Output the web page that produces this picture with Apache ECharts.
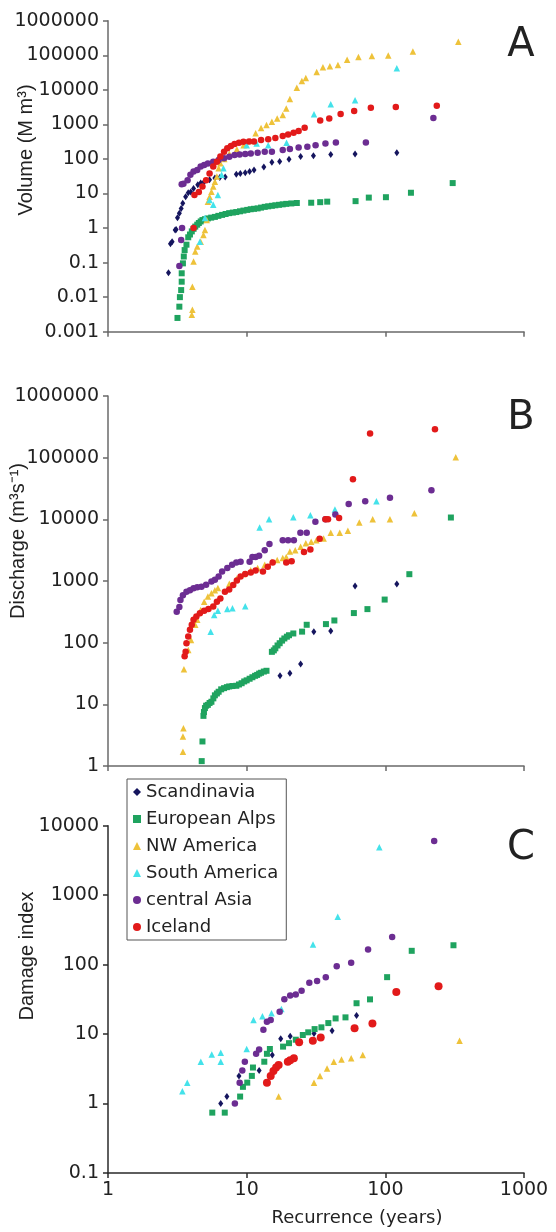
<!DOCTYPE html>
<html><head><meta charset="utf-8">
<script src="https://cdn.jsdelivr.net/npm/echarts@6/dist/echarts.min.js"></script>
<style>html,body{margin:0;padding:0;background:#fff}#c{width:556px;height:1232px}</style>
</head><body><div id="c"></div>
<script>
// ---------- DATA ----------
const regions = ['Scandinavia', 'European Alps', 'NW America', 'South America', 'central Asia', 'Iceland'];
const panelLetters = ['A', 'B', 'C'];
const yNames = ['Volume (M m³)', 'Discharge (m³s⁻¹)', 'Damage index'];
const xName = 'Recurrence (years)';

// Panel A: volume (M m3) vs recurrence (years)
const volScandinavia = [[2.73,0.051],[2.82,0.35],[2.9,0.4],[3.05,0.87],[3.1,0.9],[3.17,2.0],[3.27,2.7],[3.37,3.7],[3.46,5.2],[3.63,8.1],[3.79,10.5],[3.95,11],[4.14,14],[4.44,18],[4.66,20],[4.94,22],[5.4,25],[5.9,28],[6.4,29],[7.0,30],[8.42,36],[9.0,38],[9.77,40],[10.5,43],[11.3,48],[13.3,58],[15.2,80],[17.3,84],[20.2,98],[24.5,117],[30.3,123],[40.4,135],[60.5,138],[121,150]];
const volAlps = [[3.17,0.0025],[3.27,0.0053],[3.3,0.01],[3.37,0.016],[3.4,0.028],[3.4,0.049],[3.47,0.095],[3.52,0.15],[3.57,0.23],[3.68,0.33],[3.79,0.54],[3.9,0.65],[4.02,0.8],[4.14,0.95],[4.26,1.1],[4.4,1.25],[4.52,1.4],[4.66,1.55],[4.8,1.7],[5.0,1.8],[5.25,1.9],[5.55,2.0],[5.9,2.1],[6.25,2.25],[6.65,2.4],[7.05,2.55],[7.48,2.7],[7.95,2.8],[8.42,2.9],[8.95,3.05],[9.48,3.2],[10.1,3.35],[10.7,3.5],[11.3,3.6],[12.0,3.7],[12.7,3.9],[13.5,4.1],[14.3,4.25],[15.2,4.4],[16.1,4.55],[17.1,4.7],[18.2,4.85],[19.3,5.0],[21,5.15],[23,5.3],[29.2,5.4],[33.9,5.6],[38.1,5.8],[61,6.0],[76,7.6],[101,7.8],[153,10.5],[306,20]];
const volNWAmerica = [[4.02,0.0031],[4.06,0.0043],[4.06,0.02],[4.14,0.107],[4.26,0.21],[4.4,0.29],[4.66,0.4],[4.88,0.63],[5.0,0.87],[5.15,1.7],[5.25,5.8],[5.4,8.1],[5.57,11.3],[5.74,15.8],[5.9,22],[6.1,31],[6.28,54],[6.46,75],[6.9,100],[7.5,140],[8.5,190],[9.5,250],[10.6,330],[11.6,550],[12.7,780],[13.9,960],[15.2,1200],[16.6,1480],[18.2,1870],[19.3,2900],[20.5,5400],[23,11500],[25,18000],[26.7,22000],[32,33000],[35.5,45000],[39.8,48000],[45.5,52000],[53,74000],[64,89000],[80,95000],[105,98000],[158,128000],[336,245000]];
const volSAmerica = [[4.6,0.4],[5.0,1.95],[5.4,6.5],[5.74,4.7],[6.2,9.1],[6.8,54],[6.6,35],[10,250],[11.8,280],[14.3,250],[19.4,295],[30.6,1950],[40.4,3800],[60.5,5000],[121,42000]];
const volCAsia = [[3.27,0.08],[3.37,0.45],[3.42,1.0],[3.4,18.6],[3.5,19],[3.75,24],[3.93,35],[4.14,43],[4.4,48],[4.66,60],[4.94,67],[5.25,74],[5.74,83],[6.28,93],[6.87,104],[7.5,115],[8.18,130],[8.9,135],[9.77,138],[10.7,144],[12.0,150],[13.5,162],[15.2,162],[18.2,180],[20.5,195],[23.7,213],[27.4,225],[31.4,250],[37,280],[44,300],[72.4,300],[222,1540]];
const volIceland = [[4.14,1.0],[4.2,9.1],[4.52,11],[4.8,15.8],[5.1,24],[5.4,38],[5.74,60],[6.1,83],[6.46,117],[6.87,162],[7.25,204],[7.7,235],[8.18,270],[8.8,295],[9.48,316],[10.4,320],[11.3,320],[12.7,355],[14.3,370],[16.1,400],[18.2,460],[19.9,510],[21.8,570],[23.7,640],[26.2,800],[33.9,1290],[39.4,1490],[47.6,2000],[59.6,2440],[78.6,3040],[119,3160],[235,3480]];

// Panel B: discharge (m3/s) vs recurrence (years)
const disScandinavia = [[17.4,29],[20.5,32],[24.5,45],[30.5,150],[40.4,155],[60.5,830],[121,890]];
const disAlps = [[4.74,1.2],[4.8,2.5],[4.88,6.5],[4.92,7.5],[5.0,8.7],[5.1,9.5],[5.25,9.8],[5.4,10.5],[5.57,11],[5.75,12.5],[5.9,14],[6.1,15],[6.28,16],[6.55,17.5],[6.87,18.3],[7.2,19],[7.48,19.5],[7.9,19.8],[8.42,20],[8.8,21],[9.2,22],[9.6,23.5],[10.0,24.5],[10.5,26],[11.0,27.5],[11.5,29],[11.9,30],[12.3,31.5],[12.7,32.5],[13.3,34],[13.9,35],[15.2,71],[15.7,75],[16.1,81],[16.7,90],[17.3,98],[18.0,108],[18.7,117],[19.5,125],[20.2,132],[21.7,141],[25.1,151],[27.1,195],[37.3,200],[42.9,229],[59.3,302],[74.3,350],[98.9,500],[149,1290],[297,10700]];
const disNWAmerica = [[3.47,1.7],[3.47,3.0],[3.5,4.1],[3.53,37],[3.79,76],[3.97,110],[4.26,195],[4.4,235],[4.66,340],[4.94,460],[5.25,560],[5.57,630],[5.9,710],[6.2,770],[7.5,900],[8.5,1100],[9.5,1300],[10.7,1500],[12.0,1620],[13.5,1830],[15.2,2060],[16.6,2200],[18.2,2350],[19.3,2460],[20.5,3000],[22.4,3150],[24.5,3600],[26.7,4100],[29.2,4350],[31.8,4600],[35.9,4900],[40.4,6050],[46.9,6050],[53.7,6500],[64.9,8900],[81.1,10000],[108,10000],[162,12600],[322,102000]];
const disSAmerica = [[5.5,150],[5.83,280],[6.2,330],[7.25,350],[7.9,360],[9.77,390],[12.4,7400],[14.5,10000],[21.7,10800],[28.8,11700],[43.3,14500],[86.3,19600]];
const disCAsia = [[3.13,316],[3.27,380],[3.33,490],[3.47,590],[3.68,670],[3.9,710],[4.14,760],[4.4,790],[4.72,810],[5.1,870],[5.57,980],[5.9,1050],[6.28,1180],[6.65,1420],[7.25,1620],[7.85,1830],[8.42,2000],[9.04,2060],[10.5,2060],[11.0,2460],[11.6,2460],[12.3,2560],[13.5,3150],[14.6,3970],[18.2,4600],[19.9,4600],[21.9,4600],[24.4,6050],[27.1,6050],[31.3,9100],[37,10000],[43.6,12000],[54.4,17800],[71.6,19600],[108,22400],[215,29600]];
const disIceland = [[3.57,60],[3.63,71],[3.68,98],[3.79,126],[3.9,162],[4.02,195],[4.14,235],[4.34,265],[4.6,300],[4.94,330],[5.3,350],[5.74,385],[6.1,460],[6.46,520],[6.97,670],[7.48,730],[8.0,860],[8.5,1020],[9.04,1180],[9.77,1300],[10.7,1370],[11.6,1480],[13.1,1430],[14.2,1710],[15.4,2000],[19.3,2000],[21.1,2100],[25.9,2950],[28.8,3250],[33.6,4850],[37,10000],[38.6,10000],[46.4,10500],[58.4,44600],[77.6,247000],[228,290000]];

// Panel C: damage index vs recurrence (years)
const dmgScandinavia = [[6.5,1.0],[7.2,1.26],[8.8,2.5],[12.3,3.0],[15.3,5.0],[17.6,8.6],[20.6,9.3],[30.6,10.2],[41.3,11.2],[62,18.5]];
const dmgAlps = [[5.65,0.74],[6.95,0.74],[8.97,1.26],[9.4,1.74],[10.1,2.0],[10.9,2.5],[11.1,3.3],[13.4,4.0],[14.0,5.2],[14.7,6.1],[18.3,6.6],[20.2,7.4],[22.6,8.3],[25.4,9.7],[27.8,10.6],[30.9,11.8],[34.6,12.5],[38.8,14.4],[43.8,16.8],[51.6,17.4],[62,27.8],[77.5,31.6],[103,66],[155,158],[310,190]];
const dmgNWAmerica = [[17.0,1.26],[30.6,2.0],[33.8,2.5],[38.0,3.2],[42.5,4.0],[48.3,4.3],[56.7,4.5],[68.7,5.0],[343,8.0]];
const dmgSAmerica = [[3.44,1.5],[3.73,2.0],[4.67,4.0],[5.6,5.1],[6.5,5.4],[6.5,4.0],[10.0,6.1],[11.2,16],[13.0,18],[15.1,20],[17.8,23],[30.1,195],[45.4,490],[90.5,4900]];
const dmgCAsia = [[8.22,1.0],[8.9,2.0],[9.3,3.0],[9.7,4.0],[11.7,5.2],[12.3,6.0],[13.2,11.5],[14.0,15],[14.9,16],[17.3,21],[18.7,31.6],[20.6,36],[22.6,37],[24.9,42],[28.3,55],[32.2,58],[37.2,66],[44.6,95],[56.7,106],[75.1,165],[112,250],[225,6000]];
const dmgIceland = [[14.0,2.0],[14.9,2.5],[15.6,2.95],[16.3,3.3],[17.0,3.6],[19.8,4.0],[20.6,4.2],[21.9,4.5],[23.9,7.6],[30.0,8.0],[34.2,8.9],[60.0,12.1],[80.7,14.2],[120,40.3],[242,49]];

const panelData = [
  [volScandinavia, volAlps, volNWAmerica, volSAmerica, volCAsia, volIceland],
  [disScandinavia, disAlps, disNWAmerica, disSAmerica, disCAsia, disIceland],
  [dmgScandinavia, dmgAlps, dmgNWAmerica, dmgSAmerica, dmgCAsia, dmgIceland]
];
const yRanges = [[0.001, 1000000], [1, 1000000], [0.1, 10000]];
const xRange = [1, 1000];

// ---------- STYLE ----------
const colors = ['#15155e', '#1fa35f', '#eec23a', '#44e2ea', '#6c2d92', '#e21a1a'];
const symbols = ['diamond', 'rect', 'triangle', 'triangle', 'circle', 'circle'];
const sizes = [[5, 7], 6, 6.5, 6.5, 6.5, 6.5];
const grids = [
  { left: 108, top: 20.7, width: 416, height: 311 },
  { left: 108, top: 396, width: 416, height: 370 },
  { left: 108, top: 825.7, width: 416, height: 347.3 }
];
const axisColors = ['#6a6a6a', '#6a6a6a', '#2a2a2a'];
const hFont = 'DejaVu Sans';
const vFont = 'Liberation Sans, Arial';

function logLabel(v) {
  const e = Math.round(Math.log10(v));
  return e < 0 ? Number(v).toFixed(-e) : String(Math.round(v));
}

const xAxes = grids.map((g, i) => ({
  type: 'log', logBase: 10, gridIndex: i, min: xRange[0], max: xRange[1], splitNumber: 3,
  axisLine: { show: true, lineStyle: { color: axisColors[i], width: 1.5 } },
  axisTick: { show: true, length: 5, lineStyle: { color: axisColors[i], width: 1.5 } },
  axisLabel: { show: i === 2, fontFamily: hFont, fontSize: 19, color: '#222', margin: 8, formatter: logLabel },
  splitLine: { show: false }, minorTick: { show: false }
}));
const yAxes = grids.map((g, i) => ({
  type: 'log', logBase: 10, gridIndex: i, min: yRanges[i][0], max: yRanges[i][1],
  splitNumber: Math.round(Math.log10(yRanges[i][1] / yRanges[i][0])),
  axisLine: { show: true, lineStyle: { color: axisColors[i], width: 1.5 } },
  axisTick: { show: true, length: 5, lineStyle: { color: axisColors[i], width: 1.5 } },
  axisLabel: { fontFamily: hFont, fontSize: 19, color: '#222', margin: 9, formatter: logLabel },
  splitLine: { show: false }
}));

const series = [];
panelData.forEach((sets, p) => {
  sets.forEach((d, k) => {
    let size = sizes[k];
    if (p === 2 && k === 5) size = 8;
    series.push({
      type: 'scatter', name: regions[k], xAxisIndex: p, yAxisIndex: p,
      data: d, symbol: symbols[k], symbolSize: size,
      itemStyle: { color: colors[k], opacity: 1 },
      emphasis: { disabled: true }, silent: true, animation: false
    });
  });
});

const graphics = [
  { type: 'text', x: 26, y: 150, rotation: Math.PI / 2, style: { text: yNames[0], font: '20px ' + vFont, fill: '#222', align: 'center', verticalAlign: 'middle' } },
  { type: 'text', x: 18, y: 541, rotation: Math.PI / 2, style: { text: yNames[1], font: '20px ' + vFont, fill: '#222', align: 'center', verticalAlign: 'middle' } },
  { type: 'text', x: 27, y: 956, rotation: Math.PI / 2, style: { text: yNames[2], font: '20px ' + vFont, fill: '#222', align: 'center', verticalAlign: 'middle' } },
  { type: 'text', x: 357, y: 1218, style: { text: xName, font: '18px ' + hFont, fill: '#222', align: 'center', verticalAlign: 'middle' } },
  { type: 'text', x: 521, y: 46, style: { text: panelLetters[0], font: '40px ' + hFont, fill: '#222', align: 'center', verticalAlign: 'middle' } },
  { type: 'text', x: 521, y: 419, style: { text: panelLetters[1], font: '40px ' + hFont, fill: '#222', align: 'center', verticalAlign: 'middle' } },
  { type: 'text', x: 521, y: 849, style: { text: panelLetters[2], font: '40px ' + hFont, fill: '#222', align: 'center', verticalAlign: 'middle' } }
];

const chart = echarts.init(document.getElementById('c'), null, { renderer: 'canvas' });
chart.setOption({
  animation: false,
  backgroundColor: '#fff',
  grid: grids,
  xAxis: xAxes,
  yAxis: yAxes,
  legend: {
    data: regions.map((r, k) => ({ name: r, icon: symbols[k] })),
    orient: 'vertical', left: 127, top: 779,
    itemWidth: 8, itemHeight: 8, itemGap: 7,
    padding: [3, 8, 3, 6],
    borderColor: '#555', borderWidth: 1, backgroundColor: '#fff',
    textStyle: { fontFamily: hFont, fontSize: 18, color: '#222', lineHeight: 20 },
    selectedMode: false
  },
  graphic: graphics,
  series: series
});
</script>
</body></html>
